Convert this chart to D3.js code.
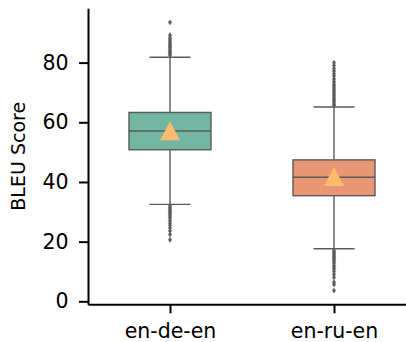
<!DOCTYPE html>
<html>
<head>
<meta charset="utf-8">
<title>BLEU boxplot</title>
<script src="https://cdn.jsdelivr.net/npm/d3@7"></script>
<style>
    body{ margin:0; background:#fff; font-family:"DejaVu Sans"; }
    .axis text{ font-family:"DejaVu Sans"; font-size:20.5px; fill:#000; }
    .axis path, .axis line{ stroke:#000; stroke-width:2; }
</style>
</head>
<body>
<div id="chart"></div>
<script>
    // categories and box stats
    var categories = ["en-de-en","en-ru-en"]
    var q1 = [50.8, 35.4]
    var median = [57.1, 41.6]
    var q3 = [63.3, 47.4]
    var whiskerLow = [32.5, 17.6]
    var whiskerHigh = [81.8, 65.1]
    var means = [57.2, 41.8]
    var fliers = [
        [93.5, 89.2, 88.4, 87.8, 87.2, 86.6, 86.0, 85.5, 85.0, 84.4, 83.9, 83.4, 82.9, 82.4,
         32.0, 31.5, 31.0, 30.5, 30.0, 29.5, 29.0, 28.4, 27.8, 27.0, 26.2, 25.5, 24.6, 23.6, 22.4, 20.6],
        [80.0, 79.0, 78.0, 77.2, 76.3, 75.5, 74.5, 73.6, 72.8, 72.2, 71.5, 70.8, 70.2, 69.6, 69.0, 68.4, 67.8, 67.2, 66.6, 66.0, 65.6,
         17.0, 16.5, 16.0, 15.5, 15.0, 14.5, 14.0, 13.4, 12.8, 12.0, 11.4, 10.8, 10.0, 9.0, 8.0, 6.4, 5.6, 3.6]
    ]
    var yTicks = [0, 20, 40, 60, 80]
    var boxColors = ["#72b6a1", "#e99675"]

    var width = 406, height = 342
    var svg = d3.select("#chart").append("svg").attr("width", width).attr("height", height)

    var x = d3.scaleLinear().domain([-0.5, 1.5]).range([88, 416])
    var y = d3.scaleLinear().domain([-1.0, 98.2]).range([304.3, 8.3])

    var lineColor = "#5a5a5a"
    var boxW = 0.5

    var g = svg.selectAll(".box").data(categories).enter().append("g").attr("class", "box")

    // whiskers
    g.append("line")
        .attr("x1", function(d,i){ return x(i) }).attr("x2", function(d,i){ return x(i) })
        .attr("y1", function(d,i){ return y(whiskerLow[i]) }).attr("y2", function(d,i){ return y(q1[i]) })
        .attr("stroke", lineColor).attr("stroke-width", 1.4)
    g.append("line")
        .attr("x1", function(d,i){ return x(i) }).attr("x2", function(d,i){ return x(i) })
        .attr("y1", function(d,i){ return y(whiskerHigh[i]) }).attr("y2", function(d,i){ return y(q3[i]) })
        .attr("stroke", lineColor).attr("stroke-width", 1.4)
    // caps
    ;[whiskerLow, whiskerHigh].forEach(function(arr){
        g.append("line")
            .attr("x1", function(d,i){ return x(i - boxW/4) }).attr("x2", function(d,i){ return x(i + boxW/4) })
            .attr("y1", function(d,i){ return y(arr[i]) }).attr("y2", function(d,i){ return y(arr[i]) })
            .attr("stroke", lineColor).attr("stroke-width", 1.4)
    })
    // box
    g.append("rect")
        .attr("x", function(d,i){ return x(i - boxW/2) })
        .attr("width", function(d,i){ return x(i + boxW/2) - x(i - boxW/2) })
        .attr("y", function(d,i){ return y(q3[i]) })
        .attr("height", function(d,i){ return y(q1[i]) - y(q3[i]) })
        .attr("fill", function(d,i){ return boxColors[i] })
        .attr("stroke", lineColor).attr("stroke-width", 1.4)
    // median
    g.append("line")
        .attr("x1", function(d,i){ return x(i - boxW/2) }).attr("x2", function(d,i){ return x(i + boxW/2) })
        .attr("y1", function(d,i){ return y(median[i]) }).attr("y2", function(d,i){ return y(median[i]) })
        .attr("stroke", lineColor).attr("stroke-width", 1.4)
    // fliers (small diamonds)
    g.each(function(d,i){
        d3.select(this).selectAll(".flier").data(fliers[i]).enter().append("path")
            .attr("class", "flier")
            .attr("d", "M0,-2.4L1.6,0L0,2.4L-1.6,0Z")
            .attr("transform", function(v){ return "translate(" + x(i) + "," + y(v) + ")" })
            .attr("fill", lineColor).attr("stroke", lineColor).attr("stroke-width", 0.6)
    })
    // mean triangles
    g.append("path")
        .attr("d", "M0,-9.5L10,9.5L-10,9.5Z")
        .attr("transform", function(d,i){ return "translate(" + x(i) + "," + y(means[i]) + ")" })
        .attr("fill", "#fdbb6c")

    var yAxis = d3.axisLeft(y).tickValues(yTicks).tickSize(9).tickSizeOuter(0).tickPadding(10.5)
    svg.append("g").attr("class", "axis")
        .attr("transform", "translate(88,0)")
        .call(yAxis)

    var xAxis = d3.axisBottom(x).tickValues([0, 1]).tickFormat(function(d){ return categories[d] })
        .tickSize(9).tickSizeOuter(0).tickPadding(10)
    svg.append("g").attr("class", "axis")
        .attr("transform", "translate(0,304.3)")
        .call(xAxis)

    svg.append("text")
        .attr("transform", "translate(25," + ((y.range()[0] + y.range()[1]) / 2) + ") rotate(-90)")
        .attr("text-anchor", "middle")
        .style("font-family", "DejaVu Sans").style("font-size", "19px")
        .text("BLEU Score")
</script>
</body>
</html>
